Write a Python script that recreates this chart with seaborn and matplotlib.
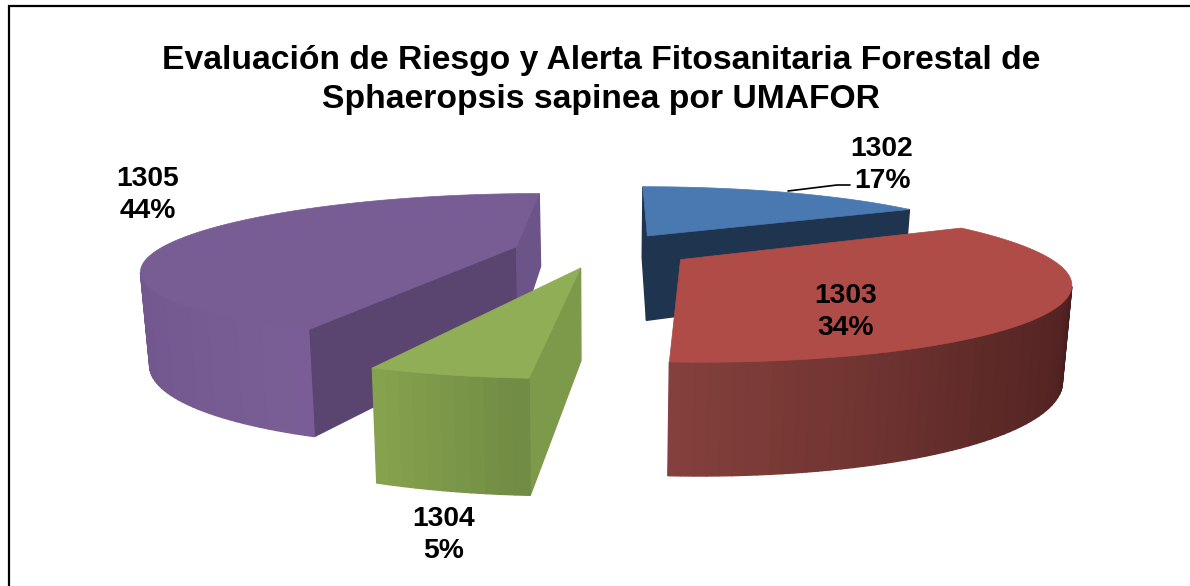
import numpy as np
import matplotlib
matplotlib.use("Agg")
import matplotlib.pyplot as plt
import seaborn as sns
from matplotlib.patches import Polygon

title = "Evaluación de Riesgo y Alerta Fitosanitaria Forestal de\nSphaeropsis sapinea por UMAFOR"
umafor = ["1302", "1303", "1304", "1305"]
share = [17, 34, 5, 44]

top_colors = ["#4a78b0", "#b04c48", "#90ae56", "#785c94"]
cut_colors = ["#1f344e", "#6a2e2c", "#7d9a4a", "#5a4470"]
inner_colors = ["#1f344e", "#6a2e2c", "#7d9a4a", "#6c5488"]
rim_colors = [("#1f344e", "#1f344e"), ("#84403c", "#5e2a28", "#4a1e1e", "#4a1e1e"),
              ("#86a24e", "#6f8a42"), ("#6c5488", "#7c5f98")]
draw_order = [0, 3, 1, 2]

explode = 0.25
u0, v0 = 603, 250
A, B, C, k, kz, m, skew = 358, 69, 88, 0.267, 0.2, 0.02, 6


def project(x, y, z=0.0):
    d = 1 + k * y
    u = u0 + (A * x * (1 - m * z) + skew * y) / d
    v = v0 - B * y / d + C * z / (1 + kz * y)
    return np.column_stack([u, v])


def side_quad(ax, p, q, color):
    # p and q are (x, y) in the pie plane, only faces towards the viewer are drawn
    top = project(np.array([p[0], q[0]]), np.array([p[1], q[1]]))
    bot = project(np.array([q[0], p[0]]), np.array([q[1], p[1]]), 1.0)
    quad = np.vstack([top, bot])
    xs, ys = quad[:, 0], quad[:, 1]
    area = np.sum(xs * np.roll(ys, -1) - np.roll(xs, -1) * ys)
    if area < 0:
        ax.add_patch(Polygon(quad, closed=True, fc=color, ec=color, lw=1.0))


sns.set_theme(style="white")
plt.rcParams["font.family"] = ["Liberation Sans", "DejaVu Sans"]

fig, ax = plt.subplots(figsize=(11.9, 5.86), dpi=100)
ax.set_position([0, 0, 1, 1])
ax.set_xlim(0, 1190)
ax.set_ylim(586, 0)
ax.axis("off")

ends = np.cumsum(share) / np.sum(share) * 2 * np.pi
starts = np.r_[0, ends[:-1]]

for i in draw_order:
    t0, t1 = starts[i], ends[i]
    mid = (t0 + t1) / 2
    cx, cy = explode * np.sin(mid), explode * np.cos(mid)
    theta = np.linspace(t0, t1, max(int((t1 - t0) * 40), 8))
    rx, ry = cx + np.sin(theta), cy + np.cos(theta)

    side_quad(ax, (cx, cy), (rx[0], ry[0]), cut_colors[i])
    side_quad(ax, (rx[-1], ry[-1]), (cx, cy), inner_colors[i])

    shades = sns.blend_palette(rim_colors[i], n_colors=len(theta))
    order = np.argsort(rx[:-1])
    for rank, j in enumerate(order):
        side_quad(ax, (rx[j], ry[j]), (rx[j + 1], ry[j + 1]), shades[rank])

    top = project(np.r_[cx, rx], np.r_[cy, ry])
    ax.add_patch(Polygon(top, closed=True, fc=top_colors[i], ec=top_colors[i], lw=0.5))

ax.plot([8.5, 8.5, 1190], [586, 5.5, 5.5], color="black", lw=1.6, solid_joinstyle="miter")
ax.plot([788, 837, 850], [191, 185, 185], color="black", lw=1.2)

ax.text(601, 80, title, ha="center", va="center", fontsize=24.2, fontweight="bold",
        color="black", linespacing=1.3)

label_pos = [(882, 165), (846, 312), (444, 535), (148, 195)]
for name, val, (lx, ly) in zip(umafor, share, label_pos):
    ax.text(lx, ly, f"{name}\n{val}%", ha="center", va="center", fontsize=20.3,
            fontweight="bold", color="black", linespacing=1.26)

fig.savefig("out.png", dpi=100)
